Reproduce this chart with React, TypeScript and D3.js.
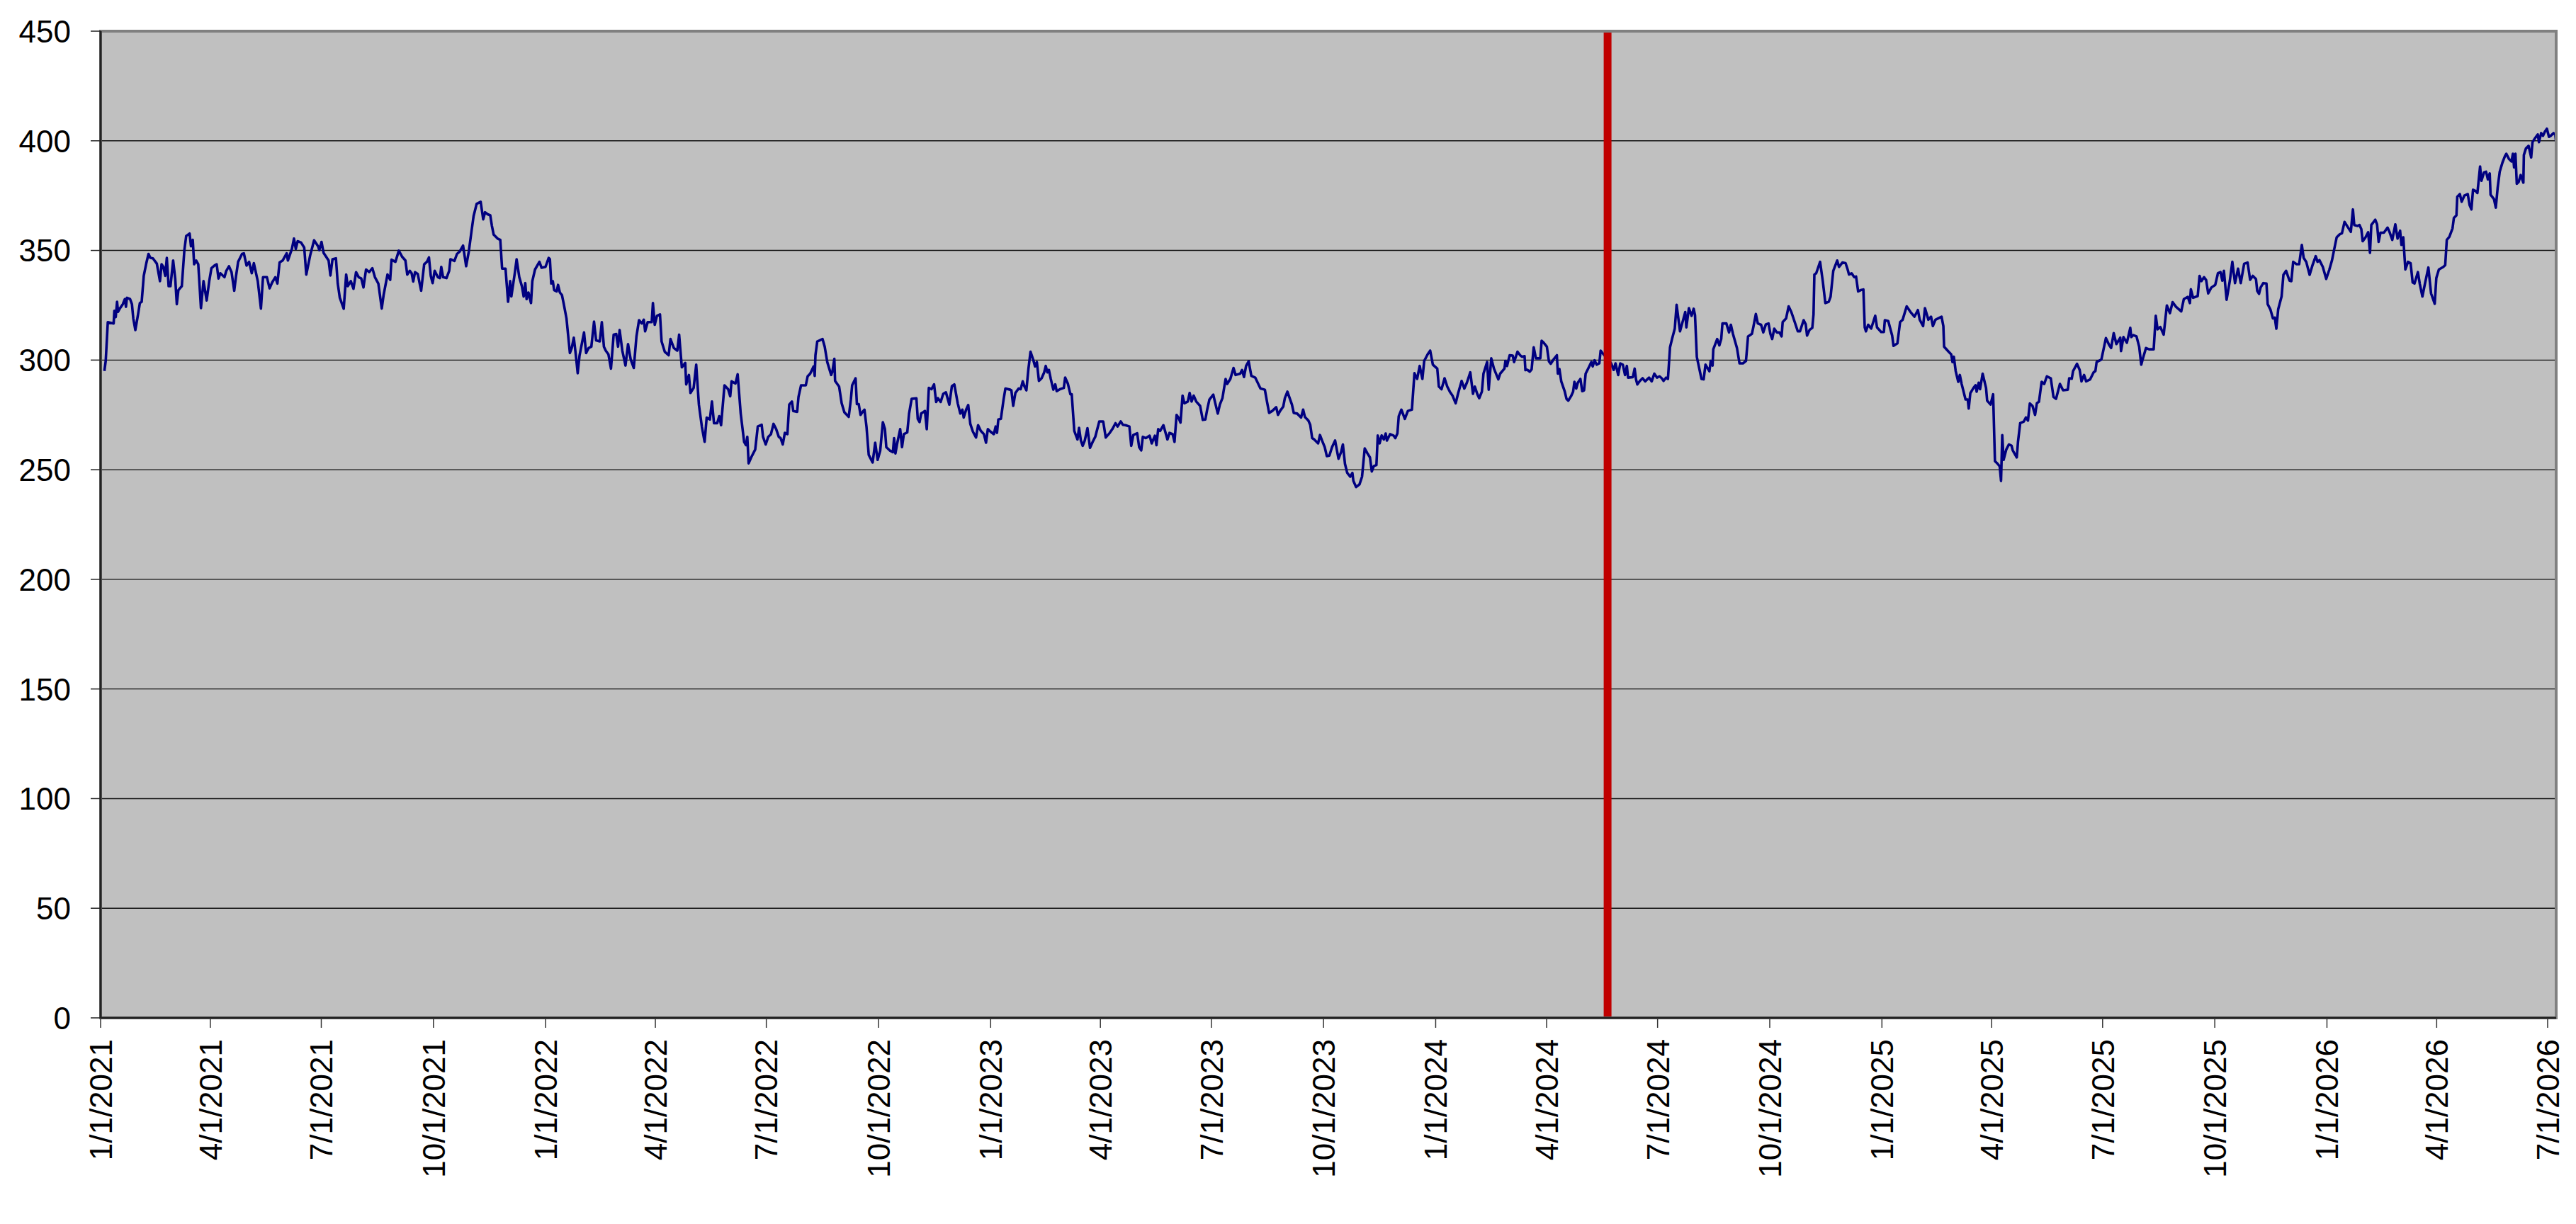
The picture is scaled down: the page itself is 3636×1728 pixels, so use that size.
import React, { useEffect, useRef } from 'react';
import * as d3 from 'd3';

// each point is [days since 1/1/2021, close]
const seg1: [number, number][] = [
  [3.1, 295], [4.2, 299.6], [5.9, 317.3], [10.7, 316.7], [11.3, 322.5], [12.4, 319.6], [13.5, 326.6], [14.3, 322],
  [16.0, 323.7], [18.2, 325.5], [19.9, 327.8], [20.8, 324.3], [21.6, 328.4], [24.2, 327.8], [25.7, 325.5], [26.8, 319],
  [28.5, 313.7], [30.7, 320.8], [32.2, 326], [33.7, 326.6], [35.4, 338.4], [37.5, 344.2], [39.3, 348.4], [40.8, 346.6],
  [42.9, 346.4], [46.1, 344], [48.7, 336], [50.0, 343.7], [51.5, 342.5], [53.0, 338.4], [54.3, 346.6], [55.8, 333.7],
  [57.3, 333.7], [59.5, 345.4], [61.2, 337.2], [62.5, 325.5], [63.8, 331.9], [66.6, 333.7], [68.7, 350.1], [70.2, 356.6],
  [73.0, 357.7], [74.1, 351.9], [75.6, 354.8], [76.7, 343.7], [78.4, 345.4], [80.1, 343.7], [82.3, 323.7], [84.4, 336],
  [87.0, 327.2], [89.1, 336], [90.9, 341.9], [93.4, 343.1], [95.2, 343.7], [96.7, 337.2], [98.2, 339.6], [101.6, 337.8],
  [103.1, 340.7], [105.3, 342.8], [107.4, 340.1], [109.6, 331.6], [111.1, 338.4], [112.8, 344.8], [116.0, 348.4], [117.5, 348.7],
  [119.7, 343.1], [121.8, 344.8], [124.0, 339.6], [125.7, 344.2], [128.9, 336], [131.5, 323.5], [133.2, 337.8], [136.4, 337.8],
  [138.6, 332.7], [140.7, 335.4], [143.3, 337.8], [145.0, 334.9], [146.8, 344.5], [149.3, 345.4], [152.6, 348.7], [153.6, 345.4],
  [156.9, 350.7], [158.6, 355.4], [160.1, 350.7], [161.6, 354.2], [164.4, 353.6], [167.0, 351.3], [168.7, 339], [171.9, 347.8],
  [175.1, 354.6], [178.4, 351.9], [179.4, 350.1], [181.2, 353.9], [182.9, 348.9], [187.0, 345.4], [188.5, 338.6], [190.2, 346],
  [193.0, 346.4], [194.5, 334.9], [196.2, 328.4], [199.4, 323.4], [201.4, 339], [202.7, 333.7], [205.2, 336], [207.4, 332.5],
  [209.5, 340.1], [211.7, 337.8], [213.8, 337.2], [215.6, 333.1], [217.7, 341.3], [220.3, 340.1], [222.9, 341.9], [225.0, 337.8],
  [227.8, 334.9], [230.6, 323.5], [232.1, 329.6], [235.3, 339], [237.5, 336.6], [238.6, 345.8], [241.8, 344.8], [244.6, 349.9],
  [247.2, 347.2], [250.0, 345.4], [251.5, 339], [253.6, 340.7], [255.1, 339.6], [256.4, 335.8], [257.9, 340.1], [260.1, 339.3],
  [262.9, 331.6], [265.4, 343.7], [267.6, 344.8], [269.3, 346.8], [270.8, 338.4], [272.3, 335.1], [274.0, 340.7], [276.6, 337.8],
  [278.3, 337.4], [279.4, 342.5], [280.9, 337.8], [283.7, 337.4], [285.9, 340.7], [286.9, 346], [290.2, 345.2], [292.3, 348.4],
  [294.5, 349.5], [297.3, 352.2], [299.8, 342.8], [302.0, 349.5], [304.1, 358.3], [305.9, 365.6], [308.4, 371.2], [311.7, 372.2],
  [313.8, 364.2], [315.3, 367.4], [317.5, 366.5], [319.6, 366], [320.9, 361.3], [322.4, 357.2], [325.6, 355.4], [327.8, 354.8],
  [329.3, 341.7], [332.1, 341.7], [334.2, 326.6], [335.9, 336],
];

const seg2: [number, number][] = [
  [336.9, 329], [339.7, 339.6], [341.2, 346], [343.4, 337.8], [345.5, 333.7], [347.0, 329], [348.3, 335.1], [349.4, 327.8],
  [350.9, 330.8], [353.0, 326], [354.1, 336], [356.3, 341.3], [359.9, 344.8], [361.7, 342.1], [364.9, 342.5], [367.5, 346.6],
  [368.5, 346], [369.6, 334.9], [370.9, 336], [372.0, 331.9], [374.1, 331.3], [375.2, 334.3], [376.7, 330.8], [378.4, 329.6],
  [379.9, 325.5], [382.1, 319], [384.9, 303.2], [386.4, 305.5], [388.1, 310.2], [389.6, 303.2], [391.3, 294], [392.8, 302],
  [396.5, 312.6], [398.2, 303.2], [400.3, 305.5], [402.5, 306.1], [404.7, 317.5], [406.4, 309], [409.4, 308.5], [411.1, 317.3],
  [412.8, 306.1], [414.3, 304.3], [416.5, 302.6], [418.6, 296.1], [420.8, 311.6], [422.9, 311.9], [424.4, 306.1], [425.7, 313.7],
  [427.9, 304.3], [430.5, 297.5], [432.6, 307.3], [434.8, 300.2], [437.3, 296.4], [439.5, 310.8], [441.6, 318.2], [443.8, 316.7],
  [445.5, 318.4], [446.6, 313.1], [448.7, 317.3], [452.0, 317.3], [453.0, 326], [454.5, 316.1], [456.3, 320.2], [458.8, 320.8],
  [460.1, 308.5], [462.7, 303.8], [465.9, 302.2], [467.4, 309.6], [470.2, 305.5], [473.0, 304.3], [474.5, 311.6], [476.7, 296.7],
  [479.5, 298.7], [480.3, 288.9], [482.5, 293.2], [483.8, 285], [486.4, 287.3], [488.5, 297.9], [490.7, 279.7], [493.2, 269.4],
  [495.4, 262.7], [497.1, 273.8], [499.7, 272.9], [501.4, 281.1], [503.1, 271.2], [505.7, 271.2], [507.4, 274.4], [508.9, 270.3],
  [511.7, 288.5], [514.7, 286.7], [516.4, 283.5], [517.5, 290.3], [520.7, 289.3], [522.5, 293.5], [525.0, 275.6], [527.8, 262.7],
  [529.3, 261.2], [530.4, 265], [531.5, 252.9], [533.6, 255.6], [536.9, 259.2], [539.0, 269.7], [542.2, 270.5], [543.3, 265],
  [545.5, 261.5], [547.6, 265], [549.8, 266.2], [551.9, 270.9], [554.1, 268.5], [556.2, 265], [557.7, 264.4], [559.5, 261.5],
  [561.2, 266.8], [563.3, 266.2], [564.8, 279.7], [567.0, 281.1], [568.1, 276.8], [571.3, 276.4], [572.4, 283.2], [574.5, 288.5],
  [578.4, 288.5], [579.9, 292.6], [582.0, 293.8], [584.8, 297.1], [585.7, 292.8], [586.3, 302.2], [587.8, 308.5], [592.1, 309.6],
  [593.9, 306.1], [596.0, 299.1], [599.2, 293.2], [600.3, 295], [601.8, 300.6], [602.4, 290.5], [605.7, 287.9], [607.8, 280.3],
  [610.0, 276.2], [613.6, 274.1], [615.4, 282.3], [616.4, 288.5], [619.2, 291.7], [620.3, 279.9], [621.8, 279.9], [623.3, 275],
  [625.0, 276.4], [626.5, 277.4], [628.2, 269.4], [630.0, 256.8], [633.2, 253.3], [635.3, 262.3], [637.3, 254.5], [639.4, 258.6],
  [641.6, 271.7], [643.3, 268.5], [644.4, 260.3], [647.6, 258.6], [649.8, 258], [650.8, 264.4], [651.9, 257.4], [653.6, 262.7],
  [655.8, 268.5], [657.3, 260.3], [658.8, 266.2], [661.6, 267], [663.1, 275.6], [665.2, 282.3], [669.1, 282.6], [670.2, 273.2],
  [671.7, 271.7], [673.0, 275.6],
];

const seg3: [number, number][] = [
  [674.6, 276.2], [676.1, 276.8], [677.6, 268.5], [679.3, 287.3], [681.5, 286.7], [683.6, 288.9], [685.3, 280.9], [686.8, 282.6],
  [689.0, 280.9], [691.1, 284.6], [693.3, 285.3], [696.1, 279.7], [698.2, 288.1], [700.2, 288.9], [703.0, 280.3], [705.1, 275.6],
  [706.8, 277.4], [707.9, 273.8], [709.9, 277.4], [711.6, 279.5], [713.3, 270.9], [715.4, 267.4], [718.0, 264.7], [719.7, 270.3],
  [721.9, 267.7], [724.5, 266.2], [726.2, 262.3], [727.7, 268.5], [729.8, 267.4], [732.6, 266.2], [734.1, 269.7], [735.2, 266.8],
  [736.3, 272.9], [738.4, 273.2], [740.6, 282], [742.1, 287], [746.0, 286.5], [747.0, 286.2], [748.5, 279.1], [750.3, 285],
  [752.9, 287], [754.6, 286.7], [756.3, 290.3], [757.8, 287.9], [759.3, 286.2], [761.0, 296.1], [762.7, 303.8], [764.9, 300.2],
  [766.4, 297.1], [767.9, 299.1], [769.6, 290.5], [771.8, 291.7], [773.9, 294.4], [775.2, 297.3], [776.5, 294.4], [777.8, 295.5],
  [779.3, 291.4], [781.4, 286.5], [783.0, 288.9], [784.2, 285.8], [786.8, 286.7], [790.0, 287.3], [791.1, 292], [793.3, 289.3],
  [795.4, 284.4], [796.5, 284.4], [798.6, 267.7], [801.2, 263.8], [802.5, 269.1], [804.0, 263.3], [805.5, 260.9], [807.2, 263.3],
  [809.4, 268.9], [811.5, 260], [813.7, 262.7], [815.8, 265], [819.1, 272], [822.3, 272], [824.4, 264.7], [827.7, 266.8],
  [829.8, 268.5], [832.4, 271.2], [834.1, 269.7], [836.7, 272], [838.4, 270.5], [840.6, 270.3], [843.8, 269.7], [845.3, 260.9],
  [847.0, 265.8], [850.2, 266.6], [851.8, 260.3], [853.5, 258.8], [854.8, 265], [857.3, 264.4], [860.4, 265.5], [862.1, 262],
  [864.7, 265.5], [866.0, 261.2], [867.4, 268.5], [869.0, 267.7], [871.7, 270.3], [875.0, 263.8], [876.7, 266.8], [879.3, 266.2],
  [880.8, 262.7], [882.5, 275], [884.0, 273.8], [885.7, 271.5], [887.4, 283.8], [888.9, 280.3], [891.7, 281.1], [893.2, 285],
  [894.8, 281.1], [896.5, 283.8], [898.6, 281.1], [901.8, 279.1], [904.0, 272.7], [906.1, 272.9], [907.6, 277.4], [909.4, 282],
  [912.6, 284.2], [914.1, 280.6], [916.3, 275.6], [918.0, 279.7], [920.1, 282.6], [922.7, 291.4], [924.0, 289.1], [926.6, 291.4],
  [929.2, 296.4], [930.9, 293.2], [934.7, 293.8], [936.2, 295.5], [937.8, 292.3], [939.5, 297.3], [941.6, 299.4], [943.8, 292.8],
  [947.0, 292], [951.3, 287], [954.9, 286.5], [956.7, 280.9], [958.4, 275.9], [961.0, 276.8], [964.2, 278.5], [965.7, 275],
  [967.4, 276.8], [970.0, 278.8], [971.3, 282.6], [973.4, 285.6], [974.9, 283.2], [977.1, 279.7], [978.6, 275.9], [981.4, 275.6],
  [984.6, 273.8], [986.3, 277.4], [987.8, 274], [990.6, 272.4], [992.1, 270.5], [993.7, 264.4], [995.4, 263.8], [998.6, 262],
  [1000.1, 265.8], [1001.8, 263.3], [1004.0, 260.3], [1005.7, 256.2], [1007.8, 256.4], [1010.0, 260.3],
];

const seg4: [number, number][] = [
  [1012.5, 263.3], [1015.3, 255], [1017.4, 258], [1018.9, 261.5], [1020.6, 252.7], [1022.4, 248.6], [1024.9, 246.8], [1026.7, 248.5],
  [1027.5, 244.9], [1029.7, 242.1], [1032.5, 243.3], [1034.6, 246.8], [1036.8, 259.7], [1038.9, 257.6], [1041.1, 255.6], [1042.6, 249.2],
  [1044.3, 251.7], [1046.4, 252.1], [1047.5, 265.6], [1049.0, 262], [1050.7, 265.6], [1052.5, 263.8], [1054.0, 266.5], [1055.0, 263.3],
  [1057.6, 266.2], [1060.4, 265.6], [1061.9, 264.4], [1063.6, 266.5], [1064.7, 274.4], [1066.9, 277.4], [1069.7, 273.2], [1072.2, 276.8],
  [1075.5, 277.4], [1077.6, 294], [1079.8, 291.4], [1081.9, 297.3], [1084.1, 291.4], [1085.6, 299.6], [1088.4, 302.6], [1090.5, 304.3],
  [1092.7, 297.9], [1096.3, 296.1], [1097.6, 287.9], [1099.8, 286.7], [1102.3, 291.7], [1104.5, 287.9], [1106.6, 285.6], [1108.8, 283.8],
  [1111.4, 280.3], [1113.5, 285], [1116.3, 290.5], [1118.5, 287], [1120.6, 289.7], [1123.4, 294.4], [1125.6, 284.6], [1127.1, 287.9],
  [1129.2, 284.4], [1130.7, 282.6], [1132.9, 285.6], [1134.2, 293.8], [1137.2, 299.1], [1138.5, 286.5], [1140.6, 300.8], [1142.8, 296.1],
  [1146.4, 291.2], [1147.9, 293.8], [1151.4, 296.1], [1152.2, 299.6], [1153.5, 297.3], [1155.7, 302.2], [1158.2, 302], [1159.3, 299.1],
  [1162.1, 303.8], [1164.3, 302.2], [1165.8, 301.5], [1167.9, 301.8], [1168.6, 295.4], [1170.1, 295.6], [1172.2, 294.7], [1173.7, 295.8],
  [1175.4, 305.8], [1177.2, 300.8], [1180.8, 300.8], [1181.9, 308.8], [1183.6, 307.9], [1186.2, 306.1], [1187.9, 299.4], [1189.4, 298.3],
  [1191.6, 300.2], [1194.4, 302.2], [1195.2, 293.8], [1196.5, 295.9], [1198.0, 290.3], [1200.8, 285.8], [1202.3, 282.3], [1203.8, 281.5],
  [1206.0, 283.5], [1207.7, 285.6], [1208.8, 290.1], [1210.3, 287], [1211.6, 289.7], [1213.7, 291.4], [1215.2, 285.8], [1216.7, 286.2],
  [1218.0, 293.8], [1220.6, 296.7], [1222.7, 299.1], [1223.8, 297.1], [1225.3, 299.9], [1227.0, 297.9], [1229.2, 298.5], [1230.3, 304.3],
  [1231.8, 303.2], [1238.9, 298.5], [1241.0, 295.5], [1242.5, 298.5], [1244.7, 293.2], [1246.4, 298.5], [1248.5, 297.9], [1250.3, 293.2],
  [1251.8, 297.3], [1252.8, 292], [1256.7, 292.2], [1258.2, 296.1], [1259.3, 291.2], [1260.4, 288.9], [1262.5, 290.5], [1264.7, 291.7],
  [1266.8, 290.3], [1270.0, 292], [1272.2, 290.3], [1274.3, 293.8], [1276.5, 292], [1278.6, 292.6], [1280.4, 291.7], [1281.9, 290.5],
  [1284.0, 292], [1285.5, 291.4], [1287.2, 305.8], [1289.0, 309.9], [1291.1, 314.3], [1292.6, 325.2], [1295.4, 313.1], [1298.0, 318.4],
  [1299.7, 321.9], [1300.6, 314.9], [1302.7, 323.7], [1304.9, 320.2], [1306.6, 323.4], [1307.7, 320.5], [1309.2, 301.4], [1313.0, 291.4],
  [1314.8, 291.2], [1316.3, 297.9], [1319.5, 294.9], [1320.6, 299.6], [1322.1, 297.5], [1322.7, 304.9], [1325.9, 309.6], [1327.7, 306.7],
  [1329.2, 309.6], [1330.2, 316.7], [1333.4, 316.7], [1335.6, 312.6], [1337.1, 316.1], [1338.8, 312], [1342.1, 305.5], [1344.2, 298.5],
  [1347.0, 298.5],
];

const seg5: [number, number][] = [
  [1349.5, 299.6], [1351.2, 310.8], [1354.4, 312], [1355.5, 314.9], [1357.6, 321], [1359.2, 316.7], [1361.9, 316.1], [1363.7, 312.6],
  [1365.8, 316.3], [1368.0, 316.7], [1369.5, 312], [1371.0, 309.6], [1372.7, 314.3], [1374.8, 312.6], [1377.0, 312.6], [1378.7, 310.8],
  [1379.6, 317.3], [1382.4, 319], [1384.5, 324.5], [1386.7, 321.9], [1389.5, 317.3], [1392.0, 313.1], [1393.8, 313.1], [1396.8, 318.2],
  [1398.5, 316.3], [1399.6, 311.2], [1401.7, 313.8], [1403.9, 314.7], [1404.9, 320.8], [1405.6, 339], [1407.1, 339.6], [1410.3, 344.8],
  [1412.5, 336], [1414.6, 326], [1417.4, 326.6], [1418.9, 328.9], [1421.1, 340.7], [1424.3, 345.4], [1425.8, 342.5], [1428.6, 344.5],
  [1431.2, 344.2], [1432.9, 341.3], [1434.0, 339], [1436.1, 339.6], [1438.3, 337.8], [1439.8, 338.1], [1441.5, 331.3], [1443.6, 331.9],
  [1445.8, 332.2], [1446.9, 314.9], [1447.9, 313.1], [1449.7, 316.1], [1452.2, 314.4], [1455.5, 320.2], [1457.0, 314.9], [1460.4, 312.8],
  [1462.6, 312.8], [1463.4, 318.2], [1466.2, 317.8], [1469.4, 311.2], [1470.5, 306.5], [1473.7, 307.6], [1475.9, 317.3], [1478.0, 318.4],
  [1481.3, 324.5], [1484.5, 321.9], [1487.7, 319.8], [1490.5, 322.8], [1492.0, 318.4], [1494.8, 315.5], [1496.3, 323.7], [1499.1, 318.4],
  [1501.3, 319.8], [1502.8, 315.5], [1504.9, 318.4], [1509.9, 319.8], [1511.4, 315.5], [1512.0, 306.1], [1515.7, 303.8], [1517.8, 302.6],
  [1518.9, 299.1], [1520.0, 301.5], [1521.5, 295], [1523.6, 290.1], [1524.9, 293.2], [1526.4, 289.1], [1529.6, 282], [1531.4, 282],
  [1532.2, 277.9], [1533.5, 284.9], [1536.1, 287.3], [1537.8, 288.5], [1538.7, 285.6], [1540.4, 289.7], [1541.5, 286.7], [1543.6, 293.8],
  [1546.4, 287.3], [1547.3, 281.5], [1550.1, 279.7], [1552.2, 284.4], [1553.7, 253.9], [1555.9, 252.7], [1557.6, 251.5], [1558.7, 244.9],
  [1559.7, 265.8], [1560.8, 254.5], [1563.0, 259.2], [1565.1, 261.5], [1567.3, 261], [1568.3, 258.8], [1571.6, 255.6], [1572.6, 262.7],
  [1574.4, 271.2], [1577.4, 272], [1579.1, 273.8], [1580.8, 272.4], [1582.3, 280.2], [1584.5, 279.1], [1586.6, 275], [1588.1, 280.3],
  [1589.8, 281], [1592.0, 290.1], [1594.1, 289.1], [1596.3, 292.6], [1599.5, 291.7], [1601.7, 283.2], [1603.8, 282.3], [1607.0, 289.1],
  [1609.6, 286.2], [1613.5, 286.5], [1614.6, 291.7], [1616.7, 291.5], [1617.8, 295], [1621.0, 298.3], [1623.2, 295.5], [1624.7, 290.3],
  [1626.8, 293.2], [1628.5, 290.3], [1631.8, 291.2], [1634.6, 294.4], [1636.1, 295], [1637.1, 299.1], [1641.0, 300.2], [1644.7, 310],
  [1647.5, 306.7], [1649.0, 305.5], [1651.1, 312.3], [1653.3, 307.3], [1656.5, 310.2], [1657.1, 304.1], [1659.1, 310.5], [1661.9, 307.9],
  [1664.7, 314.7], [1665.5, 310.5], [1667.2, 311.4], [1669.8, 310.8], [1672.0, 306.1], [1673.7, 297.9], [1675.4, 301.4], [1677.6, 305.5],
  [1680.1, 304.9], [1682.3, 304.9],
];

const seg6: [number, number][] = [
  [1683.9, 304.9], [1685.6, 320.2], [1687.1, 314], [1689.3, 315.1], [1692.1, 311.6], [1694.7, 324.9], [1697.2, 321.4], [1699.4, 326.4],
  [1702.2, 324.3], [1706.5, 322.2], [1708.6, 327.8], [1711.9, 328.8], [1713.6, 326], [1714.4, 332.3], [1716.2, 328.4], [1720.0, 329.2],
  [1721.5, 338.4], [1723.0, 336], [1725.2, 337.8], [1726.9, 336.5], [1728.6, 330.4], [1731.2, 333.1], [1734.4, 334.3], [1736.6, 339.6],
  [1738.7, 340.1], [1740.2, 336.2], [1741.5, 340.7], [1743.7, 327.5], [1746.3, 336], [1748.4, 344.8], [1750.6, 335.1], [1753.1, 341.7],
  [1755.3, 335.1], [1758.1, 343.9], [1760.9, 344.5], [1763.0, 336.6], [1765.2, 338.4], [1767.8, 336.9], [1768.8, 331.6], [1770.3, 330.2],
  [1771.6, 333.1], [1773.8, 335.1], [1776.4, 334.9], [1777.4, 325.5], [1779.6, 323.1], [1781.7, 319], [1783.2, 319.4], [1784.5, 314.3],
  [1786.0, 323.1], [1788.8, 329], [1790.3, 338.9], [1792.5, 340.7], [1795.3, 336.2], [1796.8, 336], [1798.3, 344.8], [1801.1, 343.7],
  [1803.2, 343.7], [1805.4, 352.5], [1806.9, 346.6], [1809.0, 344.8], [1811.8, 338.9], [1814.0, 343], [1816.8, 347.4], [1818.3, 344.8],
  [1819.8, 345.6], [1822.6, 342.5], [1825.4, 337], [1828.0, 341.3], [1830.1, 345.4], [1831.8, 350.1], [1834.0, 356], [1836.6, 357.4],
  [1838.3, 357.8], [1840.4, 363], [1843.4, 360.4], [1845.6, 358.5], [1847.3, 368.7], [1848.4, 361.6], [1851.2, 361.2], [1852.7, 361.6],
  [1854.2, 359.7], [1855.3, 354.2], [1857.6, 355.9], [1859.8, 358.3], [1861.3, 348.9], [1862.4, 361.6], [1865.6, 364], [1867.1, 361.9],
  [1868.4, 353.9], [1869.9, 358.1], [1872.7, 358.1], [1875.7, 360.4], [1877.4, 358.3], [1879.6, 354.8], [1882.1, 361.9], [1883.9, 355.4],
  [1886.0, 359], [1887.1, 352.5], [1888.6, 356], [1890.3, 341.3], [1892.5, 344.8], [1894.6, 344.2], [1896.3, 335.4], [1897.8, 334.9],
  [1900.6, 340.1], [1902.1, 334.9], [1904.3, 329], [1906.4, 334.9], [1909.2, 342.2], [1911.4, 330.4], [1914.4, 325.7], [1915.7, 337.4],
  [1917.8, 341.3], [1921.5, 342.5], [1923.0, 343.3], [1924.3, 354.8], [1926.4, 356.2], [1929.0, 360.1], [1930.1, 364.8], [1932.2, 366],
  [1932.9, 374.5], [1935.0, 375.7], [1936.5, 372.2], [1938.7, 375], [1941.5, 375.7], [1943.0, 370.7], [1944.5, 368.7], [1945.8, 377.7],
  [1947.9, 377.1], [1949.4, 376.2], [1951.6, 388.3], [1952.7, 381.8], [1954.8, 385.6], [1956.5, 385.9], [1958.0, 382.4], [1959.5, 385.1],
  [1960.2, 375.4], [1963.0, 373.4], [1964.5, 369.5], [1966.0, 378.5], [1967.7, 385.9], [1969.9, 390], [1972.0, 393], [1973.1, 394.1],
  [1975.2, 391.8], [1977.4, 390.6], [1978.5, 394.1], [1979.5, 387.9], [1980.6, 394.1], [1981.7, 380.4], [1983.2, 381.2], [1984.9, 384.4],
  [1987.1, 380.9], [1987.5, 393.5], [1989.2, 396.5], [1991.4, 397.7], [1993.5, 392.4], [1994.6, 399.4], [1996.7, 401.2], [1998.9, 402.9],
  [1999.9, 399.4], [2001.7, 403.5], [2003.2, 402.3], [2004.7, 404.1], [2006.4, 405.5], [2008.1, 401.8], [2009.6, 402.3], [2011.8, 403.5],
  [2013.3, 402.7], [2013.9, 399.4],
];

const yTickValues = [0, 50, 100, 150, 200, 250, 300, 350, 400, 450];
const markerDate = new Date(2024, 4, 21);
const startDate = new Date(2021, 0, 1);
const endDate = new Date(2026, 6, 8);

const WIDTH = 3636;
const HEIGHT = 1728;
const plot = { left: 142, top: 44, right: 3608, bottom: 1437 };
const FONT = '"Liberation Sans", Arial, Helvetica, sans-serif';

const App = () => {
  const ref = useRef<SVGSVGElement>(null);

  useEffect(() => {
    const svg = d3.select(ref.current);
    svg.selectAll('*').remove();

    const x = d3.scaleTime().domain([startDate, endDate]).range([plot.left, plot.right]);
    const y = d3.scaleLinear().domain([0, 450]).range([plot.bottom, plot.top]);

    const series = [...seg1, ...seg2, ...seg3, ...seg4, ...seg5, ...seg6].map(
      ([day, v]) => [new Date(startDate.getTime() + day * 86400000), v] as [Date, number]
    );

    // grey plot area
    svg.append('rect')
      .attr('x', plot.left)
      .attr('y', plot.top)
      .attr('width', plot.right - plot.left)
      .attr('height', plot.bottom - plot.top)
      .attr('fill', '#c0c0c0');

    // horizontal gridlines
    svg.append('g')
      .selectAll('line')
      .data(yTickValues.filter((v) => v > 0 && v < 450))
      .join('line')
      .attr('x1', plot.left)
      .attr('x2', plot.right)
      .attr('y1', (d) => y(d))
      .attr('y2', (d) => y(d))
      .attr('stroke', '#111')
      .attr('stroke-width', 1.4);

    const line = d3.line<[Date, number]>()
      .x((d) => x(d[0]))
      .y((d) => y(d[1]));

    svg.append('path')
      .datum(series)
      .attr('d', line)
      .attr('fill', 'none')
      .attr('stroke', '#000080')
      .attr('stroke-width', 3.6)
      .attr('stroke-linejoin', 'round');

    // red vertical marker
    svg.append('line')
      .attr('x1', x(markerDate))
      .attr('x2', x(markerDate))
      .attr('y1', plot.top)
      .attr('y2', plot.bottom)
      .attr('stroke', '#c00000')
      .attr('stroke-width', 11);

    // frame
    svg.append('rect')
      .attr('x', plot.left)
      .attr('y', plot.top)
      .attr('width', plot.right - plot.left)
      .attr('height', plot.bottom - plot.top)
      .attr('fill', 'none')
      .attr('stroke', '#808080')
      .attr('stroke-width', 4);

    // axis lines
    svg.append('line')
      .attr('x1', plot.left).attr('x2', plot.left)
      .attr('y1', plot.top).attr('y2', plot.bottom)
      .attr('stroke', '#222').attr('stroke-width', 3);
    svg.append('line')
      .attr('x1', plot.left).attr('x2', plot.right)
      .attr('y1', plot.bottom).attr('y2', plot.bottom)
      .attr('stroke', '#222').attr('stroke-width', 3);

    // y ticks and labels
    const yAxis = svg.append('g');
    yAxis.selectAll('line')
      .data(yTickValues)
      .join('line')
      .attr('x1', plot.left - 14)
      .attr('x2', plot.left)
      .attr('y1', (d) => y(d))
      .attr('y2', (d) => y(d))
      .attr('stroke', '#222')
      .attr('stroke-width', 1.5);
    yAxis.selectAll('text')
      .data(yTickValues)
      .join('text')
      .attr('x', 100)
      .attr('y', (d) => y(d))
      .attr('dy', '0.36em')
      .attr('text-anchor', 'end')
      .attr('font-family', FONT)
      .attr('font-size', 44)
      .attr('fill', '#000')
      .text((d) => String(d));

    // x ticks and rotated labels
    const fmt = d3.timeFormat('%-m/%-d/%Y');
    const xTicks = x.ticks(d3.timeMonth.every(3)!);
    const xAxis = svg.append('g');
    xAxis.selectAll('line')
      .data(xTicks)
      .join('line')
      .attr('x1', (d) => x(d))
      .attr('x2', (d) => x(d))
      .attr('y1', plot.bottom)
      .attr('y2', plot.bottom + 14)
      .attr('stroke', '#333')
      .attr('stroke-width', 1.5);
    xAxis.selectAll('text')
      .data(xTicks)
      .join('text')
      .attr('transform', (d) => `translate(${x(d)},${plot.bottom + 30}) rotate(-90)`)
      .attr('dy', '0.36em')
      .attr('text-anchor', 'end')
      .attr('font-family', FONT)
      .attr('font-size', 44)
      .attr('fill', '#000')
      .text((d) => fmt(d));
  }, []);

  return (
    <svg
      ref={ref}
      width={WIDTH}
      height={HEIGHT}
      style={{ position: 'absolute', left: 0, top: 0, background: '#fff' }}
    />
  );
};

export default App;
